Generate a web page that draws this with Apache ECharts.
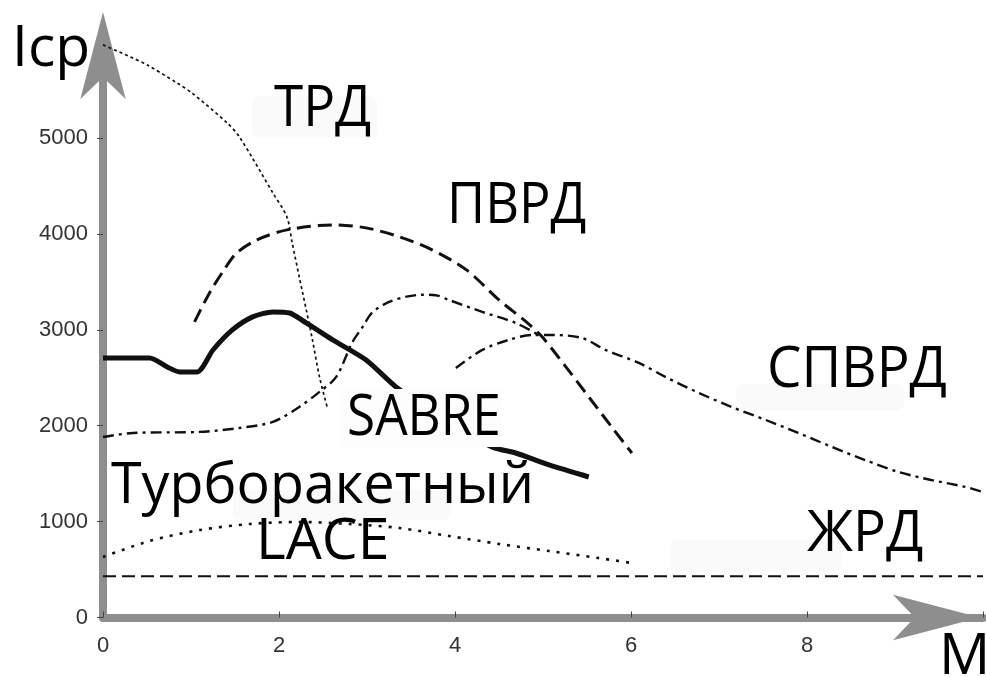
<!DOCTYPE html>
<html>
<head>
<meta charset="utf-8">
<script src="https://cdn.jsdelivr.net/npm/echarts@6/dist/echarts.min.js"></script>
<style>
  html, body { margin: 0; padding: 0; background: #fff; }
  #chart { width: 986px; height: 677px; }
</style>
</head>
<body>
<div id="chart"></div>
<script>
// Axis ticks: Mach number and specific impulse
const machTicks = [0, 2, 4, 6, 8];
const ispTicks = [0, 1000, 2000, 3000, 4000, 5000];

// Turbojet (ТРД)
const trdM   = [0, 0.31, 0.50, 0.84, 1.01, 1.41, 1.55, 1.93, 2.09, 2.15, 2.23, 2.31, 2.38, 2.46, 2.55];
const trdIsp = [5970, 5845, 5762, 5574, 5469, 5157, 5011, 4427, 4176, 3905, 3551, 3207, 2894, 2508, 2185];

// Ramjet (ПВРД)
const pvrdM   = [1.04, 1.21, 1.36, 1.52, 1.75, 2.09, 2.61, 2.99, 3.37, 3.74, 4.13, 4.50, 4.81, 4.99, 5.26, 5.52, 5.78, 6.01];
const pvrdIsp = [3082, 3384, 3603, 3801, 3937, 4041, 4093, 4062, 3968, 3833, 3624, 3311, 3082, 2926, 2613, 2300, 1987, 1715];

// SABRE
const sabreM   = [0, 0.53, 0.73, 0.87, 1.07, 1.25, 1.47, 1.70, 1.93, 2.12, 2.31, 2.61, 2.99, 3.33, 3.88, 4.42, 4.69, 5.07, 5.52];
const sabreIsp = [2706, 2706, 2612, 2560, 2560, 2789, 2998, 3134, 3186, 3175, 3071, 2894, 2685, 2404, 2060, 1778, 1715, 1590, 1465];

// Turborocket (Турборакетный)
const turboM   = [0, 0.34, 1.10, 1.55, 1.93, 2.23, 2.46, 2.65, 2.83, 2.95, 3.06, 3.25, 3.45, 3.62, 3.78, 3.93, 4.31, 4.69, 4.95];
const turboIsp = [1882, 1924, 1935, 1976, 2039, 2195, 2352, 2508, 2863, 3030, 3180, 3290, 3345, 3365, 3360, 3311, 3186, 3071, 2946];

// Scramjet (СПВРД)
const spvrdM   = [4.01, 4.31, 4.61, 4.88, 5.07, 5.44, 5.71, 6.09, 6.39, 6.77, 7.14, 7.53, 7.90, 8.28, 8.66, 9.04, 9.41, 9.80, 10.0];
const spvrdIsp = [2602, 2790, 2894, 2946, 2946, 2915, 2790, 2654, 2508, 2342, 2196, 2060, 1925, 1779, 1642, 1517, 1434, 1361, 1309];

// LACE
const laceM   = [0, 0.53, 1.10, 1.67, 2.23, 2.80, 3.37, 3.93, 4.50, 5.07, 5.63, 6.01];
const laceIsp = [631, 798, 912, 975, 996, 975, 933, 850, 767, 693, 620, 568];

// Liquid rocket engine (ЖРД)
const zhrdM   = [0, 10];
const zhrdIsp = [430, 430];

const pairs = (xs, ys) => xs.map((x, i) => [x, ys[i]]);

const axisGray = '#8e8e8e';
const labelFont = '"Open Sans", "Noto Sans", sans-serif';
const tickFont = '"Liberation Sans", Arial, sans-serif';

function curve(name, xs, ys, width, dash, smooth) {
  return {
    name: name,
    type: 'line',
    data: pairs(xs, ys),
    symbol: 'none',
    smooth: smooth,
    silent: true,
    lineStyle: { color: '#111', width: width, type: dash, cap: 'butt' }
  };
}

function label(text, x, y, sx) {
  return {
    type: 'text',
    z: 110,
    x: x,
    y: y,
    scaleX: sx,
    style: {
      text: text,
      fill: '#000',
      font: '57px ' + labelFont,
      verticalAlign: 'middle',
      align: 'left'
    }
  };
}

// faint paper patches behind some captions
function patch(x, y, w, h) {
  return { type: 'rect', z: 1, silent: true, shape: { x: x, y: y, width: w, height: h, r: 8 }, style: { fill: '#fafafa' } };
}

const chart = echarts.init(document.getElementById('chart'), null, { renderer: 'canvas' });

chart.setOption({
  animation: false,
  backgroundColor: '#fff',
  grid: { left: 103, right: 1, top: 42, bottom: 59.5, containLabel: false },
  xAxis: {
    type: 'value',
    min: 0,
    max: 10,
    interval: 2,
    splitLine: { show: false },
    axisLine: {
      show: true,
      onZero: false,
      lineStyle: { color: axisGray, width: 8 },
      symbol: ['none', 'arrow'],
      symbolSize: [34, 87],
      symbolOffset: [0, -3]
    },
    axisTick: { show: true, length: 6, inside: true, lineStyle: { color: '#444', width: 1 } },
    axisLabel: {
      margin: 17,
      color: '#333',
      fontSize: 22,
      fontFamily: tickFont,
      formatter: v => machTicks.includes(v) ? String(v) : ''
    }
  },
  yAxis: {
    type: 'value',
    min: 0,
    max: 6000,
    interval: 1000,
    splitLine: { show: false },
    axisLine: {
      show: true,
      onZero: false,
      lineStyle: { color: axisGray, width: 8 },
      symbol: ['none', 'arrow'],
      symbolSize: [34, 87],
      symbolOffset: [0, 30]
    },
    axisTick: { show: true, length: 6, lineStyle: { color: '#444', width: 1 } },
    axisLabel: {
      margin: 15,
      color: '#333',
      fontSize: 22,
      fontFamily: tickFont,
      formatter: v => ispTicks.includes(v) ? String(v) : ''
    }
  },
  series: [
    curve('ТРД', trdM, trdIsp, 1.7, [3, 3], 0.3),
    curve('ПВРД', pvrdM, pvrdIsp, 3, [14, 7], 0.3),
    curve('SABRE', sabreM, sabreIsp, 5, 'solid', 0.25),
    curve('Турборакетный', turboM, turboIsp, 2.4, [11, 5, 3, 5], 0.3),
    curve('СПВРД', spvrdM, spvrdIsp, 2.4, [11, 5, 3, 5], 0.3),
    curve('LACE', laceM, laceIsp, 2.6, [3, 7], 0.3),
    curve('ЖРД', zhrdM, zhrdIsp, 2, [13, 6], false)
  ],
  graphic: [
    patch(252, 96, 125, 42),
    patch(736, 384, 168, 27),
    patch(670, 540, 172, 32),
    patch(233, 490, 218, 30),
    // light patch behind the SABRE caption
    { type: 'rect', z: 100, silent: true, shape: { x: 340, y: 389, width: 162, height: 58 }, style: { fill: '#fdfdfd' } },
    label('Icp', 12, 50, 1),
    label('ТРД', 274, 110, 0.93),
    label('ПВРД', 447, 207, 0.92),
    label('СПВРД', 767, 371, 0.96),
    label('SABRE', 347, 419, 0.9),
    label('Турборакетный', 111, 487, 0.975),
    label('LACE', 256, 543, 1),
    label('ЖРД', 807, 535, 0.96),
    label('M', 939, 658, 1)
  ]
});
</script>
</body>
</html>
